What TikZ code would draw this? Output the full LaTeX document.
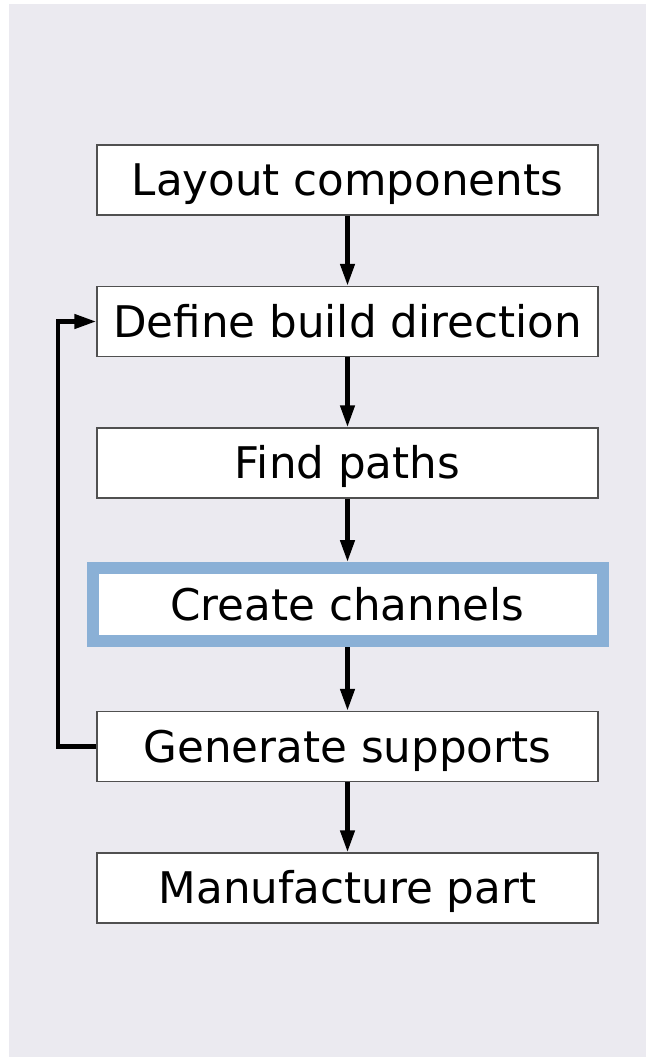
\documentclass[tikz,border=0pt]{standalone}
\usepackage{fontspec}
\setmainfont{DejaVu Sans}
\usetikzlibrary{arrows.meta}
\definecolor{panel}{RGB}{235,234,240}
\definecolor{boxline}{RGB}{80,80,80}
\definecolor{hilite}{RGB}{138,176,214}
\tikzset{
  stepbox/.style={draw=boxline, line width=1.5pt, fill=white,
    minimum width=501pt, minimum height=70pt, inner sep=0pt,
    text height=31.6pt, text depth=0pt,
    font=\fontsize{43.6}{50}\selectfont},
  hibox/.style={stepbox, draw=hilite, line width=12pt,
    minimum width=510pt, minimum height=73pt},
  flow/.style={line width=4.5pt, draw=black,
    -{Triangle[length=22pt,width=14pt]}},
}
\begin{document}
\begin{tikzpicture}[x=1pt,y=-1pt]
  \useasboundingbox (0,0) rectangle (649,1057);
  \fill[panel] (9,4) rectangle (645.5,1057);

  \node[stepbox] (layout)  at (347.5,180)   {Layout components};
  \node[stepbox] (define)  at (347.5,321.5) {Define build direction};
  \node[stepbox] (find)    at (347.5,463)   {Find paths};
  \node[hibox]   (create)  at (347.5,604.5) {Create channels};
  \node[stepbox] (support) at (347.5,746.5) {Generate supports};
  \node[stepbox] (make)    at (347.5,888)   {Manufacture part};

  \draw[flow] (layout)  -- (define);
  \draw[flow] (define)  -- (find);
  \draw[flow] (find)    -- (create);
  \draw[flow] (create)  -- (support);
  \draw[flow] (support) -- (make);

  % loop back from supports to build direction
  \coordinate (loop) at (58,746.5);
  \draw[flow] (support.west) -- (loop) |- (define.west);
\end{tikzpicture}
\end{document}
